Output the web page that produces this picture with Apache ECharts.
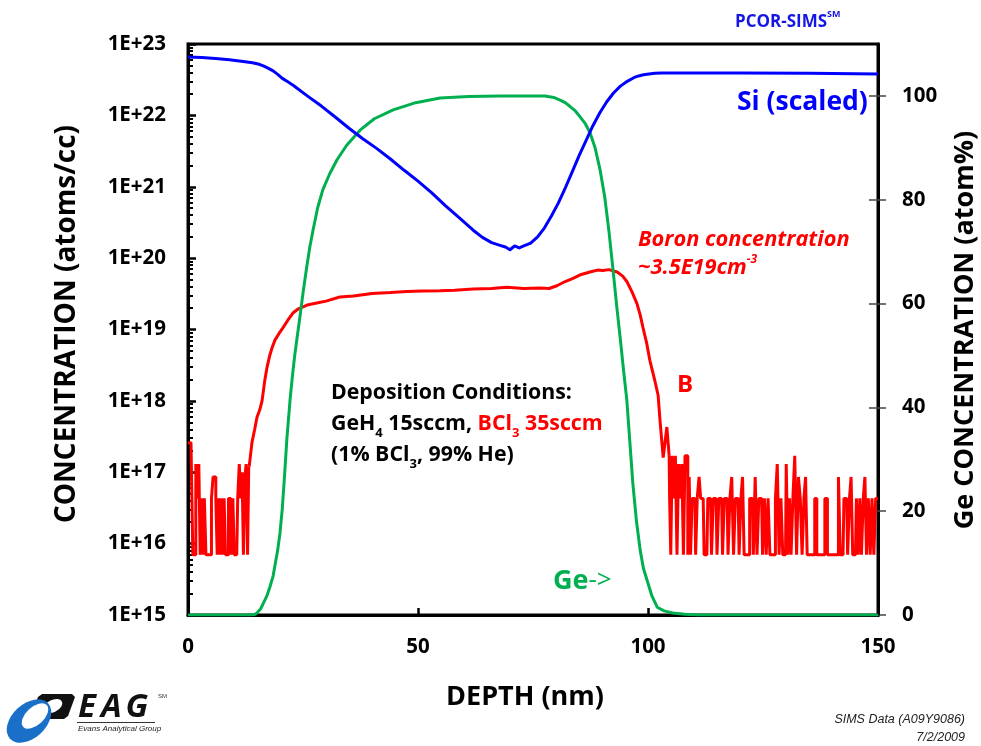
<!DOCTYPE html>
<html>
<head>
<meta charset="utf-8">
<script src="https://cdn.jsdelivr.net/npm/echarts@6/dist/echarts.min.js"></script>
<style>
  html, body { margin: 0; padding: 0; background: #ffffff; }
  #chart { width: 981px; height: 746px; }
</style>
</head>
<body>
<div id="chart"></div>
<script>
// SIMS depth profile: Si (scaled), B (atoms/cc, log axis) and Ge (atom%, right axis)

// Si (scaled) profile
const siDepth = [0, 3, 6, 9, 12, 14, 15.5, 16.5, 17.5, 18.5, 19.5, 20.5, 21.7, 23, 26, 29, 32, 35, 38, 41, 44, 47,
  50, 53, 56, 59, 62, 64, 66, 68, 69, 70, 71, 72, 73, 74.5, 76, 77.5, 79, 80.5, 82, 83.5, 85, 86.5, 88, 89.5, 91,
  92.5, 94, 95.5, 97, 98, 99, 100.2, 101.5, 103, 105, 120, 135, 150];
const siConc = [6.6e22, 6.45e22, 6.25e22, 6.0e22, 5.7e22, 5.45e22, 5.2e22, 4.9e22, 4.55e22, 4.2e22, 3.75e22, 3.3e22,
  2.95e22, 2.6e22, 1.86e22, 1.35e22, 9.5e21, 6.6e21, 4.7e21, 3.45e21, 2.45e21, 1.7e21,
  1.2e21, 8.2e20, 5.4e20, 3.65e20, 2.46e20, 1.95e20, 1.65e20, 1.5e20, 1.43e20, 1.31e20, 1.48e20, 1.39e20, 1.48e20,
  1.62e20, 1.98e20, 2.66e20, 3.9e20, 5.9e20, 9.6e20, 1.6e21, 2.7e21, 4.4e21, 7.1e21, 1.08e22, 1.54e22,
  2.06e22, 2.57e22, 3.0e22, 3.4e22, 3.57e22, 3.7e22, 3.8e22, 3.88e22, 3.92e22, 3.93e22, 3.93e22, 3.88e22, 3.8e22];

// Ge profile (atom%)
const geDepth = [0, 13.5, 14.5, 15, 15.8, 16.5, 17.2, 17.8, 18.5, 19, 19.5, 20, 20.5, 21, 21.5, 22.2, 22.7, 23.2,
  23.8, 24.3, 25, 25.8, 26.5, 27.2, 28.2, 29.3, 30.8, 32.4, 34.5, 37.4, 40.5, 44.6, 49.5, 54.8, 61, 67.8, 77.6,
  79.5, 80.9, 82, 83, 84.2, 85.2, 86.4, 87.4, 88.5, 89.6, 90.6, 91.5, 92.4, 93.2, 94, 94.7, 95.4, 96, 96.7, 97.5,
  98.3, 99, 99.8, 100.8, 102, 103.5, 105.4, 108, 111.3, 150];
const gePct = [0, 0, 0.1, 0.4, 1.2, 2.5, 3.8, 5.4, 7.5, 10, 12.5, 15.8, 20.5, 27, 34, 41.6, 46, 50,
  54, 57.2, 62, 67, 71, 74.2, 78.5, 81.9, 85, 87.7, 90.5, 93.4, 95.6, 97.3, 98.7, 99.6, 99.9, 100, 100,
  99.7, 99.2, 98.7, 98, 97.1, 96, 94.6, 92.9, 90, 85.7, 80.5, 74, 66.5, 59.5, 53, 47, 41.4, 34, 25.4, 18,
  12.5, 9, 6.7, 3.8, 1.5, 0.8, 0.4, 0.15, 0, 0];

// Boron: surface noise near the detection floor
const bSurfaceDepth = [0, 0.4, 0.9, 1.2, 1.5, 1.9, 2.2, 2.5, 2.8, 3.1, 3.4, 3.7, 4.1, 4.5, 4.9, 5.3, 5.6, 5.9, 6.2,
  6.5, 6.8, 7.1, 7.4, 7.7, 8.0, 8.3, 8.6, 9.0, 9.3, 9.6, 9.9, 10.2, 10.6, 11.0, 11.3, 11.6, 11.9, 12.2, 12.5, 12.8, 13.1];
const bSurfaceConc = [2.6e17, 2.6e17, 2.6e17, 7e15, 7e15, 1.3e17, 4.3e16, 1.3e17, 7e15, 4.3e16, 7e15, 4.3e16, 7e15,
  7e15, 7e15, 4.3e16, 8.6e16, 8.6e16, 4.3e16, 7e15, 4.3e16, 7e15, 4.3e16, 7e15, 4.3e16, 7e15, 7e15, 4.3e16, 4.3e16,
  7e15, 4.3e16, 7e15, 7e15, 4.3e16, 1.3e17, 4.3e16, 1.0e17, 7e15, 8.6e16, 1.3e17, 7e15];

// Boron: doped SiGe layer
const bLayerDepth = [13.3, 13.9, 14.5, 15.0, 15.6, 16.1, 16.7, 17.2, 17.8, 18.3, 18.9, 19.8, 20.7, 21.7, 22.8, 24.0,
  25.9, 28.0, 30.0, 33.0, 36.0, 40.0, 44.0, 47.6, 51.0, 54.8, 58.0, 62.0, 66.0, 69.3, 73.0, 76.5, 78.5, 80.2, 82.0,
  83.7, 85.5, 87.4, 89.0, 90.2, 91.5, 93.3, 94.5, 95.4, 96.5, 97.6, 98.3, 98.9, 99.7, 100.4, 101.5, 102.2, 102.6,
  103.3, 104.1, 104.6];
const bLayerConc = [1.2e17, 2.6e17, 4.0e17, 5.9e17, 7.5e17, 1.0e18, 1.95e18, 3.0e18, 4.4e18, 5.6e18, 7.1e18, 8.8e18,
  1.07e19, 1.35e19, 1.7e19, 1.95e19, 2.2e19, 2.35e19, 2.5e19, 2.85e19, 2.95e19, 3.2e19, 3.3e19, 3.4e19, 3.45e19,
  3.5e19, 3.55e19, 3.7e19, 3.75e19, 3.9e19, 3.75e19, 3.8e19, 3.75e19, 4.1e19, 4.7e19, 5.2e19, 5.9e19, 6.4e19,
  6.8e19, 6.7e19, 6.9e19, 6.4e19, 5.6e19, 4.7e19, 3.4e19, 2.3e19, 1.6e19, 1.07e19, 6.5e18, 3.7e18, 1.9e18, 1.2e18,
  5.4e17, 1.6e17, 4.3e17, 1.7e17];

// Boron: substrate noise near the detection floor
const bTailDepth = [104.8, 105.1, 105.4, 105.8, 106.1, 106.5, 106.8, 107.2, 107.5, 107.9, 108.2, 108.5, 108.8, 109.1,
  109.4, 109.8, 110.2, 110.5, 110.9, 111.3, 111.6, 112.0, 112.4, 112.8, 113.2, 113.6, 114.0, 114.4, 114.8, 115.2,
  115.6, 116.0, 116.4, 116.8, 117.2, 117.6, 118.0, 118.4, 118.8, 119.2, 119.6, 120.0, 120.4, 120.7, 121.1, 121.5,
  121.9, 122.3, 122.7, 123.1, 123.5, 123.9, 124.3, 124.7, 125.1, 125.5, 125.9, 126.3, 126.7, 127.1, 127.5, 127.9,
  128.3, 128.7, 129.1, 129.5, 129.9, 130.2, 130.6, 130.9, 131.3, 131.7, 132.1, 132.5, 132.9, 133.3, 133.7, 134.1,
  134.4, 134.8, 135.2, 135.6, 136.0, 136.5, 136.9, 137.3, 137.7, 138.1, 138.8, 139.2, 139.6, 140.0, 140.4, 140.8,
  141.2, 141.6, 142.0, 142.4, 142.8, 143.2, 143.6, 144.0, 144.3, 144.7, 145.1, 145.5, 145.9, 146.2, 146.6, 147.0,
  147.3, 147.7, 148.1, 148.5, 148.9, 149.3, 149.7, 150.0];
const bTailConc = [4.3e16, 7e15, 1.7e17, 4.3e16, 1.7e17, 7e15, 1.3e17, 4.3e16, 1.3e17, 7e15, 1.7e17, 1.7e17, 7e15,
  8.6e16, 7e15, 4.3e16, 4.3e16, 7e15, 4.3e16, 8.6e16, 4.3e16, 4.3e16, 7e15, 7e15, 4.3e16, 4.3e16, 7e15, 4.3e16,
  4.3e16, 7e15, 4.3e16, 4.3e16, 7e15, 4.3e16, 4.3e16, 7e15, 4.3e16, 8.6e16, 7e15, 4.3e16, 4.3e16, 7e15, 4.3e16,
  8.6e16, 7e15, 7e15, 7e15, 4.3e16, 4.3e16, 7e15, 8.6e16, 7e15, 4.3e16, 4.3e16, 7e15, 4.3e16, 7e15, 4.3e16, 7e15,
  7e15, 7e15, 4.3e16, 1.3e17, 7e15, 4.3e16, 7e15, 7e15, 1.3e17, 7e15, 4.3e16, 7e15, 4.3e16, 1.7e17, 7e15, 8.6e16,
  4.3e16, 7e15, 4.3e16, 8.6e16, 7e15, 7e15, 7e15, 7e15, 4.3e16, 7e15, 7e15, 7e15, 7e15, 4.3e16, 7e15, 7e15, 7e15,
  7e15, 7e15, 7e15, 8.6e16, 7e15, 7e15, 4.3e16, 4.3e16, 7e15, 4.3e16, 8.6e16, 7e15, 7e15, 4.3e16, 7e15, 4.3e16,
  7e15, 4.3e16, 8.6e16, 7e15, 4.3e16, 7e15, 4.3e16, 7e15, 4.3e16, 4.3e16];

// Axis ticks (top decade nudged inside the extent so rounding never drops it)
const depthTicks = [0, 50, 100, 150];
const decadeTicks = [1e15, 1e16, 1e17, 1e18, 1e19, 1e20, 1e21, 1e22, 0.99999e23];
const geTicks = [0, 20, 40, 60, 80, 100];

const FONT = 'Open Sans';
const RED = '#ff0000';
const BLUE = '#0000ff';
const GREEN = '#00b050';

function pairs(xs, ys) {
  return xs.map((x, i) => [x, ys[i]]);
}

// minor ticks at 2..9 x 10^n for the log axis
const minorLogTicks = [];
for (let e = 15; e < 23; e++) {
  for (let k = 2; k <= 9; k++) minorLogTicks.push(k * Math.pow(10, e));
}

const layerData = pairs(bLayerDepth, bLayerConc);
const surfaceData = pairs(bSurfaceDepth, bSurfaceConc).concat([layerData[0]]);
const tailData = [layerData[layerData.length - 1]].concat(pairs(bTailDepth, bTailConc));

// an ellipse for the logo, drawn as a scaled and rotated circle
function oval(cx, cy, rx, ry, rot, fill) {
  return {
    type: 'circle', x: cx, y: cy, rotation: rot, scaleX: rx / 10, scaleY: ry / 10,
    shape: { cx: 0, cy: 0, r: 10 }, style: { fill: fill }
  };
}

const chart = echarts.init(document.getElementById('chart'), null, { renderer: 'canvas' });

const tickLabel = { color: '#000', fontFamily: FONT, fontWeight: 'bold', fontSize: 20.5 };
const lineBase = { type: 'line', showSymbol: false, symbol: 'none', silent: true };

chart.setOption({
  animation: false,
  backgroundColor: '#ffffff',
  grid: {
    left: 188, right: 103, top: 44, bottom: 131,
    show: true, borderColor: '#000', borderWidth: 3, backgroundColor: 'transparent'
  },
  xAxis: {
    type: 'value', min: 0, max: 150, interval: 50,
    axisLine: { show: true, onZero: false, lineStyle: { color: '#000', width: 3 } },
    axisTick: { show: true, inside: true, length: 7, lineStyle: { color: '#000', width: 2.5 }, customValues: depthTicks },
    axisLabel: Object.assign({ margin: 22, customValues: depthTicks }, tickLabel),
    splitLine: { show: false }
  },
  yAxis: [
    {
      type: 'log', logBase: 10, min: 1e15, max: 1e23, position: 'left',
      axisLine: { show: true, lineStyle: { color: '#000', width: 3 } },
      axisTick: { show: true, inside: true, length: 8, lineStyle: { color: '#000', width: 2.5 }, customValues: decadeTicks },
      axisLabel: Object.assign({
        margin: 22, customValues: decadeTicks, showMaxLabel: true,
        formatter: v => '1E+' + Math.round(Math.log10(v))
      }, tickLabel),
      splitLine: { show: false }
    },
    {
      type: 'value', min: 0, max: 110, position: 'right',
      axisLine: { show: true, lineStyle: { color: '#000', width: 3 } },
      axisTick: { show: true, inside: false, length: 8, lineStyle: { color: '#444', width: 1.5 }, customValues: geTicks },
      axisLabel: Object.assign({ margin: 24, customValues: geTicks }, tickLabel),
      splitLine: { show: false }
    },
    {
      // inner half of the crossing ticks on the Ge axis
      type: 'value', min: 0, max: 110, position: 'right',
      axisLine: { show: false },
      axisTick: { show: true, inside: true, length: 9, lineStyle: { color: '#444', width: 1.5 }, customValues: geTicks },
      axisLabel: { show: false },
      splitLine: { show: false }
    },
    {
      // minor ticks of the concentration axis
      type: 'log', logBase: 10, min: 1e15, max: 1e23, position: 'left',
      axisLine: { show: false },
      axisTick: { show: true, inside: true, length: 5, lineStyle: { color: '#000', width: 2 }, customValues: minorLogTicks },
      axisLabel: { show: false },
      splitLine: { show: false }
    }
  ],
  series: [
    Object.assign({
      name: 'B', yAxisIndex: 0, data: surfaceData, step: 'middle',
      lineStyle: { color: RED, width: 3 }, z: 2
    }, lineBase),
    Object.assign({
      name: 'B', yAxisIndex: 0, data: layerData,
      lineStyle: { color: RED, width: 3 }, z: 2
    }, lineBase),
    Object.assign({
      name: 'B', yAxisIndex: 0, data: tailData, step: 'middle',
      lineStyle: { color: RED, width: 3 }, z: 2
    }, lineBase),
    Object.assign({
      name: 'Ge', yAxisIndex: 1, data: pairs(geDepth, gePct),
      lineStyle: { color: GREEN, width: 3, join: 'round' }, z: 3
    }, lineBase),
    Object.assign({
      name: 'Si (scaled)', yAxisIndex: 0, data: pairs(siDepth, siConc),
      lineStyle: { color: BLUE, width: 3, join: 'round' }, z: 4
    }, lineBase)
  ],
  graphic: [
    // axis titles
    {
      type: 'text', x: 67, y: 324, rotation: Math.PI / 2,
      style: { text: 'CONCENTRATION (atoms/cc)', fill: '#000', fontFamily: FONT, fontWeight: 'bold', fontSize: 28, align: 'center', verticalAlign: 'middle' }
    },
    {
      type: 'text', x: 965, y: 330, rotation: Math.PI / 2,
      style: { text: 'Ge CONCENTRATION (atom%)', fill: '#000', fontFamily: FONT, fontWeight: 'bold', fontSize: 27, align: 'center', verticalAlign: 'middle' }
    },
    {
      type: 'text', x: 525, y: 697,
      style: { text: 'DEPTH (nm)', fill: '#000', fontFamily: FONT, fontWeight: 'bold', fontSize: 27, align: 'center', verticalAlign: 'middle' }
    },
    // series labels
    {
      type: 'text', x: 737, y: 102,
      style: { text: 'Si (scaled)', fill: BLUE, fontFamily: FONT, fontWeight: 'bold', fontSize: 26.5, align: 'left', verticalAlign: 'middle' }
    },
    {
      type: 'text', x: 677, y: 385,
      style: { text: 'B', fill: RED, fontFamily: FONT, fontWeight: 'bold', fontSize: 24, align: 'left', verticalAlign: 'middle' }
    },
    {
      type: 'text', x: 553, y: 581,
      style: {
        text: '{g|Ge}{a|->}', align: 'left', verticalAlign: 'middle',
        rich: {
          g: { fill: GREEN, fontFamily: FONT, fontWeight: 'bold', fontSize: 27 },
          a: { fill: GREEN, fontFamily: FONT, fontWeight: 'normal', fontSize: 26 }
        }
      }
    },
    {
      type: 'text', x: 638, y: 254,
      style: {
        text: '{i|Boron concentration}\n{i|~3.5E19cm}{sup|-3}', align: 'left', verticalAlign: 'middle',
        rich: {
          i: { fill: RED, fontFamily: FONT, fontWeight: 'bold', fontStyle: 'italic', fontSize: 21.8, lineHeight: 28 },
          sup: { fill: RED, fontFamily: FONT, fontWeight: 'bold', fontStyle: 'italic', fontSize: 12, lineHeight: 18, verticalAlign: 'top' }
        }
      }
    },
    // deposition conditions
    {
      type: 'text', x: 331, y: 424,
      style: {
        text: '{n|Deposition Conditions:}\n{n|GeH}{s|4}{n| 15sccm, }{r|BCl}{rs|3}{r| 35sccm}\n{n|(1% BCl}{s|3}{n|, 99% He)}',
        align: 'left', verticalAlign: 'middle',
        rich: {
          n: { fill: '#000', fontFamily: FONT, fontWeight: 'bold', fontSize: 21.3, lineHeight: 31 },
          s: { fill: '#000', fontFamily: FONT, fontWeight: 'bold', fontSize: 13, lineHeight: 17, verticalAlign: 'bottom' },
          r: { fill: RED, fontFamily: FONT, fontWeight: 'bold', fontSize: 21.3, lineHeight: 31 },
          rs: { fill: RED, fontFamily: FONT, fontWeight: 'bold', fontSize: 13, lineHeight: 17, verticalAlign: 'bottom' }
        }
      }
    },
    // header mark
    {
      type: 'text', x: 735, y: 22,
      style: {
        text: '{m|PCOR-SIMS}{sup|SM}', align: 'left', verticalAlign: 'middle',
        rich: {
          m: { fill: '#1515e6', fontFamily: FONT, fontWeight: 'bold', fontSize: 17, lineHeight: 24 },
          sup: { fill: '#1515e6', fontFamily: FONT, fontWeight: 'bold', fontSize: 9, lineHeight: 10, verticalAlign: 'top' }
        }
      }
    },
    // footer
    {
      type: 'text', x: 965, y: 720,
      style: { text: 'SIMS Data (A09Y9086)', fill: '#222', fontFamily: 'Liberation Sans', fontStyle: 'italic', fontSize: 12.5, align: 'right', verticalAlign: 'middle' }
    },
    {
      type: 'text', x: 965, y: 738,
      style: { text: '7/2/2009', fill: '#222', fontFamily: 'Liberation Sans', fontStyle: 'italic', fontSize: 12.5, align: 'right', verticalAlign: 'middle' }
    },
    // EAG logo
    {
      type: 'group', children: [
        {
          type: 'polygon',
          shape: { points: [[42, 694], [72, 694], [75, 697], [68, 716], [64, 719], [34, 719], [31, 716], [38, 697]] },
          style: { fill: '#111' }
        },
        oval(53, 706, 10, 6, 0.45, '#fff'),
        oval(29, 721, 26, 17, 0.75, '#1a6fc8'),
        oval(35, 716, 16, 9, 0.75, '#fff'),
        {
          type: 'text', x: 78, y: 708,
          style: {
            text: '{e|E}{a|A}{g|G}', align: 'left', verticalAlign: 'middle',
            rich: {
              e: { fill: '#111', fontFamily: FONT, fontWeight: 'bold', fontStyle: 'italic', fontSize: 33, padding: [0, 5, 0, 0] },
              a: { fill: '#111', fontFamily: FONT, fontWeight: 'bold', fontStyle: 'italic', fontSize: 33, padding: [0, 4, 0, 0] },
              g: { fill: '#111', fontFamily: FONT, fontWeight: 'bold', fontStyle: 'italic', fontSize: 33 }
            }
          }
        },
        { type: 'rect', shape: { x: 77, y: 722, width: 78, height: 1 }, style: { fill: '#333' } },
        {
          type: 'text', x: 78, y: 729,
          style: { text: 'Evans Analytical Group', fill: '#222', fontFamily: 'Liberation Sans', fontStyle: 'italic', fontSize: 8, align: 'left', verticalAlign: 'middle' }
        },
        {
          type: 'text', x: 158, y: 696,
          style: { text: 'SM', fill: '#333', fontFamily: 'Liberation Sans', fontSize: 6, align: 'left', verticalAlign: 'middle' }
        }
      ]
    }
  ]
});
</script>
</body>
</html>
